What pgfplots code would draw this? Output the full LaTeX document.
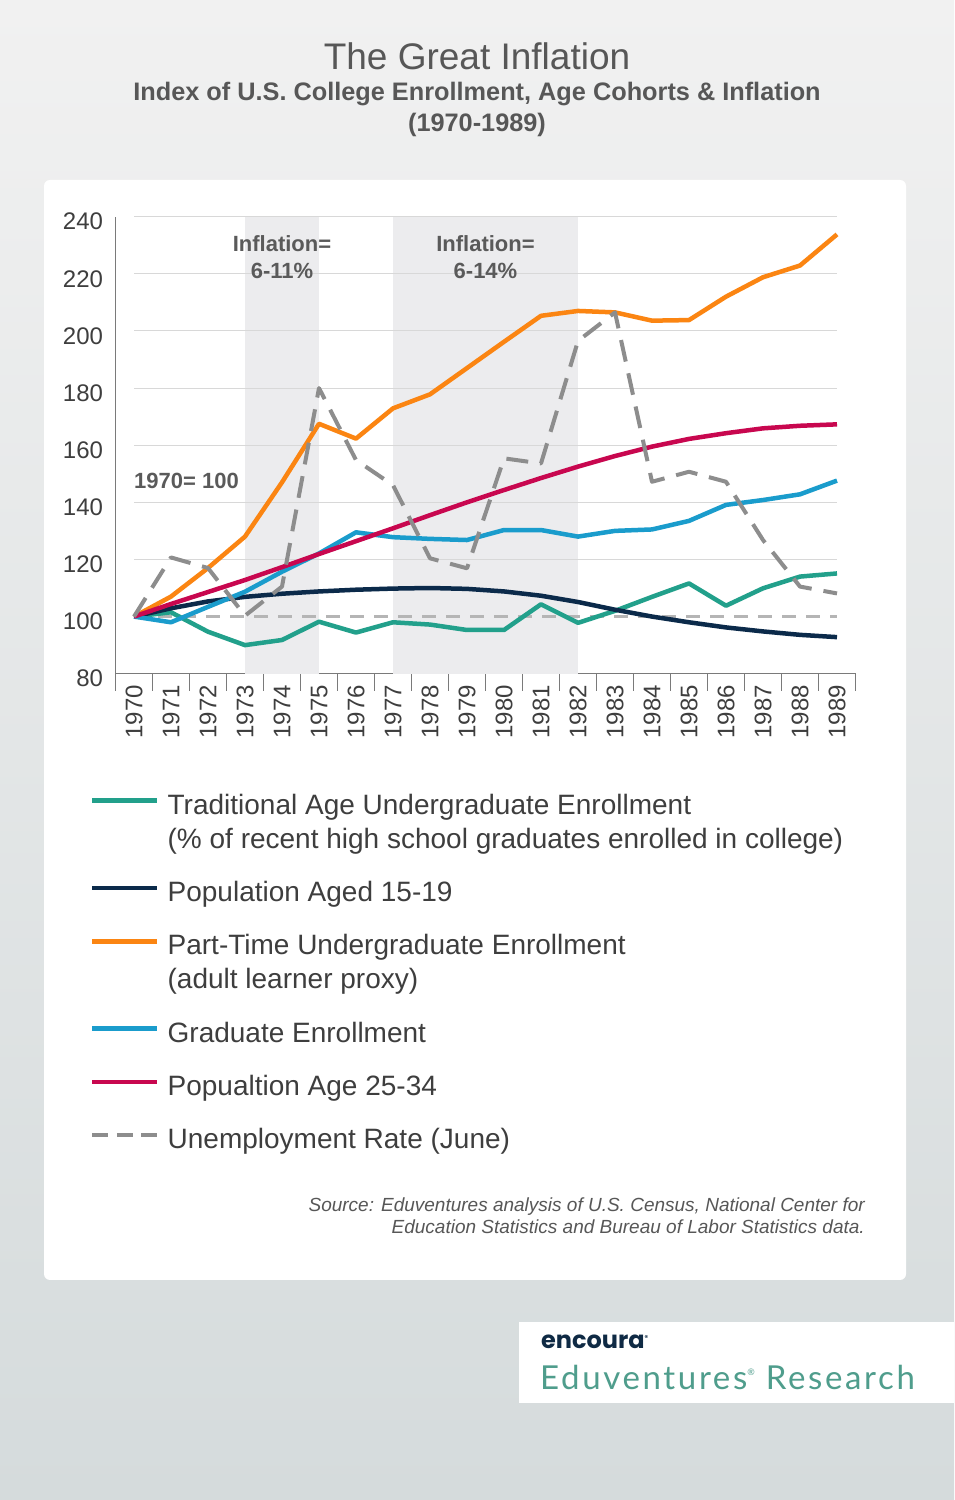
\documentclass[border=0pt]{standalone}
\usepackage{fontspec}
\setmainfont{Liberation Sans}
\newfontfamily\lato[LetterSpace=8]{Lato}
\newfontfamily\poppins{Poppins}
\usepackage{pgfplots}
\pgfplotsset{compat=1.18}

\definecolor{bgtop}{HTML}{F1F1F1}
\definecolor{bgbot}{HTML}{D5DBDC}
\definecolor{titlegray}{HTML}{575757}
\definecolor{textgray}{HTML}{3E3E3E}
\definecolor{axisgray}{HTML}{7A7A7A}
\definecolor{gridgray}{HTML}{D8D8D8}
\definecolor{shadegray}{HTML}{ECECEE}
\definecolor{annogray}{HTML}{5A5A5A}
\definecolor{cteal}{HTML}{22A08B}
\definecolor{cnavy}{HTML}{0B2A4A}
\definecolor{corange}{HTML}{FB8512}
\definecolor{cblue}{HTML}{1A9CCC}
\definecolor{ccrimson}{HTML}{C8074F}
\definecolor{cdash}{HTML}{8D8D8D}
\definecolor{cbase}{HTML}{B5B5B5}
\definecolor{logoteal}{HTML}{4F9D8C}
\definecolor{logonavy}{HTML}{0F2A44}

\begin{document}
\begin{tikzpicture}[x=1pt,y=1pt]
% page background and white panel
\shade[top color=bgtop, bottom color=bgbot] (0,0) rectangle (954,1500);
\fill[white, rounded corners=6pt] (44,220) rectangle (906,1320);

% titles
\node[anchor=base, text=titlegray, font=\fontsize{37}{44}\selectfont, inner sep=0] at (477,1430) {The Great Inflation};
\node[anchor=base, text=titlegray, font=\bfseries\fontsize{25.3}{30}\selectfont, inner sep=0] at (477,1399) {Index of U.S. College Enrollment, Age Cohorts \& Inflation};
\node[anchor=base, text=titlegray, font=\bfseries\fontsize{25.3}{30}\selectfont, inner sep=0] at (477,1368) {(1970-1989)};

\begin{axis}[
  at={(115.5pt,826.3pt)}, anchor=south west,
  scale only axis, width=740pt, height=457pt,
  xmin=-0.5, xmax=19.5, ymin=80, ymax=240,
  clip=false,
  axis lines*=left,
  axis line style={draw=axisgray, line width=1.5pt},
  xtick={0,...,19},
  xticklabels={1970,1971,1972,1973,1974,1975,1976,1977,1978,1979,1980,1981,1982,1983,1984,1985,1986,1987,1988,1989},
  minor xtick={-0.5,0.5,...,19.5},
  ytick={80,100,...,240},
  major tick length=0pt,
  minor tick length=17pt,
  tick align=outside,
  minor tick style={draw=axisgray, line width=1.2pt},
  /pgf/number format/assume math mode=true,
  tick label style={text=textgray, font=\fontsize{24}{28}\selectfont},
  xticklabel style={rotate=90, anchor=east, xshift=-8pt},
  yticklabel style={xshift=-9pt, yshift=-5pt},
  legend style={at={(-0.0345,-0.2505)}, anchor=north west, draw=none, fill=none,
    inner sep=0pt, row sep=24pt, font=\fontsize{28}{34}\selectfont, text=textgray,
    cells={anchor=base west, align=left},
    /tikz/every odd column/.style={column sep=6pt}},
  legend image code/.code={\draw[#1] (0pt,13.5pt) -- (65pt,13.5pt);},
]
% inflation periods
\fill[shadegray] (axis cs:3,80) rectangle (axis cs:5,240);
\fill[shadegray] (axis cs:7,80) rectangle (axis cs:12,240);
% grid lines
\pgfplotsinvokeforeach{120,140,160,180,200,220,240}{
  \draw[gridgray, line width=1pt] (axis cs:0,#1) -- (axis cs:19,#1);
}

% 100 reference line
\addplot[forget plot, cbase, line width=2.5pt, dash pattern=on 14pt off 10pt] coordinates {(0,100) (19,100)};

\addplot[cteal, line width=4.5pt, line join=round, legend image post style={yshift=34pt}] coordinates {
(0,100) (1,101.5) (2,94.7) (3,90) (4,91.8) (5,98.2) (6,94.4) (7,98) (8,97.2) (9,95.3)
(10,95.3) (11,104.3) (12,97.8) (13,102) (14,106.9) (15,111.6) (16,103.8) (17,109.9) (18,114) (19,115.1)};
\addlegendentry{\strut Traditional Age Undergraduate Enrollment\\(\% of recent high school graduates enrolled in college)\strut}

\addplot[cnavy, line width=4.5pt, line join=round] coordinates {
(0,100) (1,102.9) (2,105.3) (3,106.9) (4,108) (5,108.8) (6,109.4) (7,109.8) (8,110) (9,109.7)
(10,108.8) (11,107.3) (12,105.1) (13,102.4) (14,100) (15,98) (16,96.2) (17,94.8) (18,93.6) (19,92.8)};
\addlegendentry{\strut Population Aged 15-19}

\addplot[corange, line width=4.5pt, line join=round, legend image post style={yshift=34pt}] coordinates {
(0,100) (1,107) (2,117) (3,128) (4,147) (5,167.5) (6,162.3) (7,172.9) (8,177.8) (9,187)
(10,196.2) (11,205.3) (12,207) (13,206.5) (14,203.6) (15,203.8) (16,212) (17,218.8) (18,222.9) (19,233.8)};
\addlegendentry{\strut Part-Time Undergraduate Enrollment\\(adult learner proxy)\strut}

\addplot[cblue, line width=4.5pt, line join=round] coordinates {
(0,100) (1,98) (2,103.4) (3,108.7) (4,115.7) (5,122.1) (6,129.5) (7,127.8) (8,127.2) (9,126.8)
(10,130.3) (11,130.3) (12,128) (13,130) (14,130.5) (15,133.5) (16,139.1) (17,140.8) (18,142.8) (19,147.6)};
\addlegendentry{\strut Graduate Enrollment}

\addplot[ccrimson, line width=4.5pt, line join=round] coordinates {
(0,100) (1,104.4) (2,108.6) (3,112.8) (4,117.3) (5,121.9) (6,126.4) (7,130.9) (8,135.5) (9,140)
(10,144.3) (11,148.5) (12,152.5) (13,156.2) (14,159.5) (15,162.2) (16,164.2) (17,165.9) (18,166.8) (19,167.3)};
\addlegendentry{\strut Popualtion Age 25-34}

\addplot[cdash, line width=4pt, line join=round, dash pattern=on 22pt off 12pt,
  legend image post style={dash pattern=on 16pt off 8.5pt}] coordinates {
(0,100) (1,120.7) (2,117) (3,100.3) (4,110.5) (5,180) (6,154.8) (7,146) (8,120.4) (9,116.9)
(10,155.4) (11,153.6) (12,196.5) (13,206.5) (14,147.2) (15,150.7) (16,147.2) (17,126.8) (18,110.5) (19,108.1)};
\addlegendentry{\strut Unemployment Rate (June)}

% annotations
\node[anchor=base, inner sep=0, text=annogray, font=\bfseries\fontsize{22}{27}\selectfont] at (axis cs:4,227.7) {Inflation=};
\node[anchor=base, inner sep=0, text=annogray, font=\bfseries\fontsize{22}{27}\selectfont] at (axis cs:4,218.2) {6-11\%};
\node[anchor=base, inner sep=0, text=annogray, font=\bfseries\fontsize{22}{27}\selectfont] at (axis cs:9.5,227.7) {Inflation=};
\node[anchor=base, inner sep=0, text=annogray, font=\bfseries\fontsize{22}{27}\selectfont] at (axis cs:9.5,218.2) {6-14\%};
\node[anchor=base west, inner sep=0, text=annogray, font=\bfseries\fontsize{22}{27}\selectfont] at (axis cs:0,144.7) {1970= 100};
\end{axis}

% source
\node[anchor=base east, inner sep=0, text=titlegray, font=\itshape\fontsize{19}{22}\selectfont] at (865,288) {Source: Eduventures analysis of U.S. Census, National Center for};
\node[anchor=base east, inner sep=0, text=titlegray, font=\itshape\fontsize{19}{22}\selectfont] at (865,266) {Education Statistics and Bureau of Labor Statistics data.};

% logo box
\fill[white] (519,97) rectangle (954,178);
\node[anchor=base west, inner sep=0, text=logonavy, font=\poppins\bfseries\fontsize{24}{28}\selectfont] at (541,151) {encoura\raisebox{8pt}{\fontsize{7}{7}\selectfont ®}};
\node[anchor=base west, inner sep=0, text=logoteal, font=\lato\fontsize{33}{38}\selectfont] at (540,110) {Eduventures\raisebox{14pt}{\fontsize{9}{9}\selectfont ®} Research};
\end{tikzpicture}
\end{document}
